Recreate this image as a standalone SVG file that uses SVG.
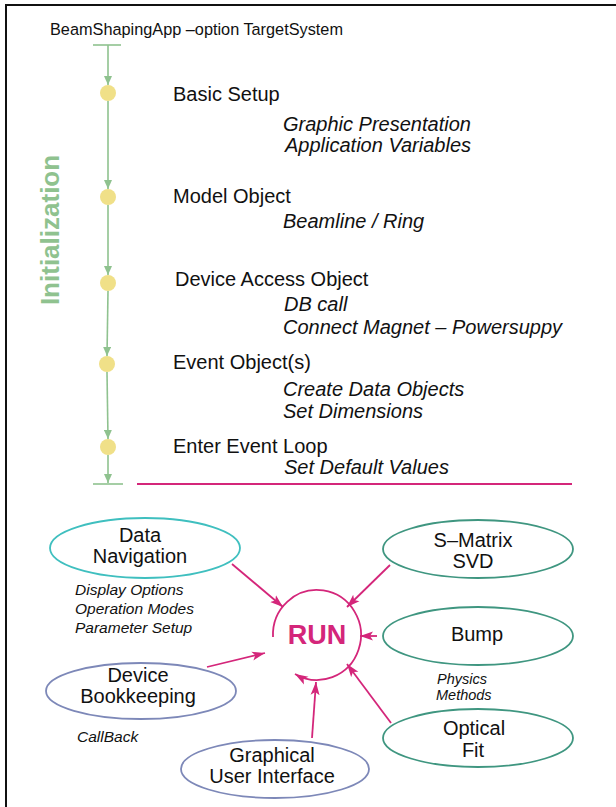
<svg xmlns="http://www.w3.org/2000/svg" width="616" height="807" viewBox="0 0 616 807">
  <style>
    text { font-family: "Liberation Sans", Arial, sans-serif; fill: #111; }
    .title { font-size: 16.3px; }
    .step { font-size: 20px; }
    .sub { font-size: 20px; font-style: italic; }
    .note { font-size: 15.5px; font-style: italic; }
    .small { font-size: 14.5px; font-style: italic; }
    .label { font-size: 20px; text-anchor: middle; }
    .init { font-size: 26px; font-weight: bold; fill: #8fc28f; text-anchor: middle; }
    .run { font-size: 27px; font-weight: bold; fill: #d4267a; text-anchor: middle; }
    .flow { stroke: #8fc28f; stroke-width: 1.6; fill: none; }
    .dot { fill: #f0e088; }
    .link { stroke: #d4267a; stroke-width: 1.8; fill: none; }
    .cyan { fill: none; stroke: #3fbfbf; stroke-width: 1.8; }
    .slate { fill: none; stroke: #7d88b8; stroke-width: 1.8; }
    .teal { fill: none; stroke: #3f9680; stroke-width: 1.8; }
  </style>
  <defs>
    <marker id="greenHead" markerUnits="userSpaceOnUse" markerWidth="10" markerHeight="8" refX="9" refY="4" orient="auto">
      <path d="M0,0 L9,4 L0,8 Z" fill="#8fc28f"/>
    </marker>
    <marker id="pinkHead" markerUnits="userSpaceOnUse" markerWidth="14" markerHeight="10" refX="13" refY="5" orient="auto">
      <path d="M0,0.5 L13,5 L0,9.5 L3,5 Z" fill="#d4267a"/>
    </marker>
  </defs>

  <!-- page frame -->
  <path d="M6,807 L6,5 L616,5" fill="none" stroke="#111" stroke-width="2"/>

  <text class="title" x="50" y="35">BeamShapingApp –option TargetSystem</text>

  <!-- initialization sequence -->
  <text class="init" transform="translate(59,230) rotate(-90)">Initialization</text>

  <g id="connectors">
    <line class="flow" x1="93" y1="45" x2="121" y2="45"/>
    <line class="flow" x1="108" y1="45" x2="108" y2="85" marker-end="url(#greenHead)"/>
    <line class="flow" x1="108" y1="101" x2="108" y2="189" marker-end="url(#greenHead)"/>
    <line class="flow" x1="108" y1="205" x2="108" y2="275" marker-end="url(#greenHead)"/>
    <line class="flow" x1="108" y1="291" x2="107" y2="356" marker-end="url(#greenHead)"/>
    <line class="flow" x1="107" y1="372" x2="108" y2="439" marker-end="url(#greenHead)"/>
    <line class="flow" x1="108" y1="455" x2="108" y2="483" marker-end="url(#greenHead)"/>
    <line class="flow" x1="93" y1="484" x2="123" y2="484"/>
    <line x1="137" y1="484" x2="572" y2="484" stroke="#d4267a" stroke-width="1.8"/>

    <!-- arrows into RUN -->
    <line class="link" x1="232" y1="564" x2="283" y2="607" marker-end="url(#pinkHead)"/>
    <line class="link" x1="390" y1="565" x2="347" y2="607" marker-end="url(#pinkHead)"/>
    <line class="link" x1="377" y1="636" x2="360" y2="636" marker-end="url(#pinkHead)"/>
    <line class="link" x1="391" y1="723" x2="347" y2="664" marker-end="url(#pinkHead)"/>
    <line class="link" x1="312" y1="738" x2="316" y2="682" marker-end="url(#pinkHead)"/>
    <line class="link" x1="207" y1="667" x2="265" y2="653" marker-end="url(#pinkHead)"/>
  </g>

  <g id="step-basic-setup">
    <circle class="dot" cx="108" cy="93" r="8"/>
    <text class="step" x="173" y="101">Basic Setup</text>
    <text class="sub" x="283" y="131">Graphic Presentation</text>
    <text class="sub" x="285" y="152">Application Variables</text>
  </g>
  <g id="step-model-object">
    <circle class="dot" cx="108" cy="197" r="8"/>
    <text class="step" x="173" y="203">Model Object</text>
    <text class="sub" x="283" y="228">Beamline / Ring</text>
  </g>
  <g id="step-device-access">
    <circle class="dot" cx="108" cy="283" r="8"/>
    <text class="step" x="175" y="286">Device Access Object</text>
    <text class="sub" x="284" y="311">DB call</text>
    <text class="sub" x="283" y="334">Connect Magnet – Powersuppy</text>
  </g>
  <g id="step-event-objects">
    <circle class="dot" cx="107" cy="364" r="8"/>
    <text class="step" x="173" y="369">Event Object(s)</text>
    <text class="sub" x="283" y="396">Create Data Objects</text>
    <text class="sub" x="283" y="418">Set Dimensions</text>
  </g>
  <g id="step-event-loop">
    <circle class="dot" cx="108" cy="447" r="8"/>
    <text class="step" x="173" y="453">Enter Event Loop</text>
    <text class="sub" x="284" y="474">Set Default Values</text>
  </g>

  <!-- run loop -->
  <g id="run">
    <path class="link" d="M273,637 A44,45 0 1 1 295,674" marker-end="url(#pinkHead)"/>
    <text class="run" x="317" y="644">RUN</text>
  </g>

  <g id="data-navigation">
    <ellipse class="cyan" cx="145" cy="548" rx="95" ry="30"/>
    <text class="label" x="140" y="542">Data</text>
    <text class="label" x="140" y="563">Navigation</text>
    <text class="note" x="75" y="595">Display Options</text>
    <text class="note" x="75" y="614">Operation Modes</text>
    <text class="note" x="75" y="633">Parameter Setup</text>
  </g>

  <g id="device-bookkeeping">
    <ellipse class="slate" cx="141" cy="691" rx="95" ry="28"/>
    <text class="label" x="138" y="682">Device</text>
    <text class="label" x="138" y="703">Bookkeeping</text>
    <text class="note" x="77" y="742">CallBack</text>
  </g>

  <g id="gui">
    <ellipse class="slate" cx="275" cy="769" rx="94" ry="29"/>
    <text class="label" x="272" y="762">Graphical</text>
    <text class="label" x="272" y="783">User Interface</text>
  </g>

  <g id="s-matrix">
    <ellipse class="teal" cx="478" cy="549" rx="95" ry="29"/>
    <text class="label" x="473" y="547">S–Matrix</text>
    <text class="label" x="473" y="568">SVD</text>
  </g>

  <g id="bump">
    <ellipse class="teal" cx="478" cy="636" rx="95" ry="29"/>
    <text class="label" x="477" y="641">Bump</text>
    <text class="small" x="437" y="684">Physics</text>
    <text class="small" x="436" y="700">Methods</text>
  </g>

  <g id="optical-fit">
    <ellipse class="teal" cx="478" cy="738" rx="95" ry="29"/>
    <text class="label" x="474" y="735">Optical</text>
    <text class="label" x="473" y="757">Fit</text>
  </g>
</svg>
